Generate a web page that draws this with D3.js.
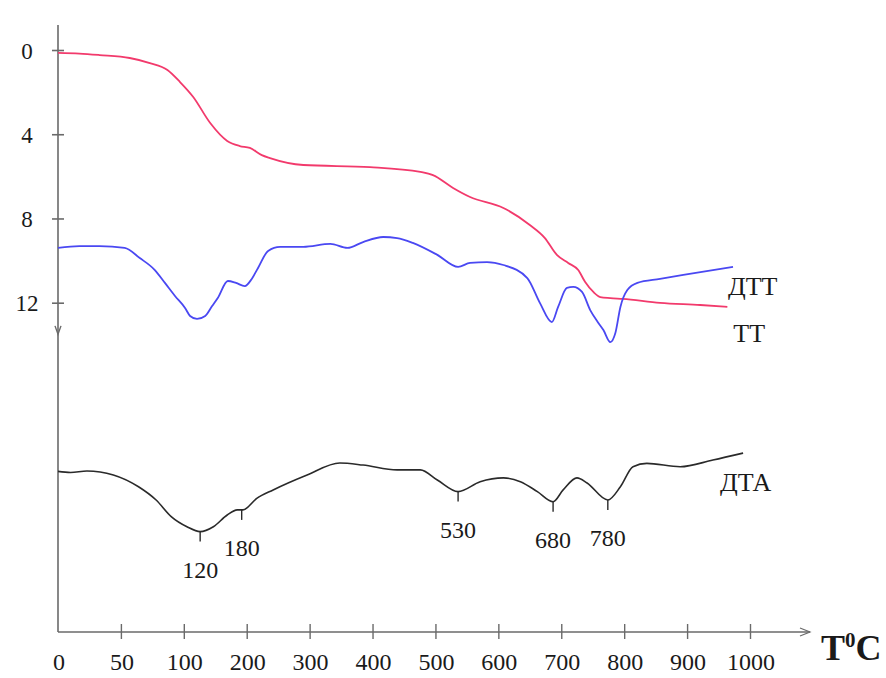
<!DOCTYPE html>
<html lang="ru">
<head>
  <meta charset="UTF-8">
  <title>Термограмма</title>
  <style>
    body {
      margin: 0;
      padding: 0;
      background-color: #ffffff;
    }

    svg text {
      font-family: "Liberation Serif", "Times New Roman", serif;
      fill: #1a1a1a;
    }
  </style>
  <script src="https://d3js.org/d3.v7.min.js"></script>
</head>
<body>
  <div id="chart"></div>
  <script>
    // x ticks (axis is broken: 0-50-100 then steps of 100)
    const xTicks = [50, 100, 200, 300, 400, 500, 600, 700, 800, 900, 1000];
    const xLabels = [0, 50, 100, 200, 300, 400, 500, 600, 700, 800, 900, 1000];
    const yTicks = [0, 4, 8, 12];

    // TT (mass loss), red
    const ttTemp = [0, 17, 33, 57, 73, 87, 97, 115, 142, 169, 189, 205, 224, 237, 290, 396, 476, 496, 528, 555, 608, 650, 674, 693, 711, 727, 738, 751, 762, 778, 798, 857, 921, 964];
    const ttVal = [0.14, 0.17, 0.24, 0.38, 0.62, 0.95, 1.52, 2.23, 3.47, 4.32, 4.56, 4.65, 4.99, 5.13, 5.46, 5.56, 5.79, 5.94, 6.55, 6.98, 7.5, 8.31, 8.93, 9.73, 10.11, 10.45, 11.02, 11.49, 11.73, 11.78, 11.82, 12.01, 12.11, 12.2];

    // DTT, blue
    const dttTemp = [0, 17, 33, 53, 65, 77, 85, 93, 102, 110, 121, 134, 145, 154, 170, 183, 197, 208, 218, 234, 253, 290, 333, 360, 385, 417, 439, 464, 503, 536, 555, 582, 608, 646, 666, 685, 695, 709, 719, 733, 746, 759, 767, 778, 786, 794, 805, 821, 857, 894, 973];
    const dttVal = [9.4, 9.31, 9.31, 9.4, 9.88, 10.45, 11.06, 11.68, 12.25, 12.63, 12.77, 12.63, 12.16, 11.78, 10.97, 11.06, 11.21, 10.87, 10.35, 9.54, 9.35, 9.35, 9.21, 9.4, 9.12, 8.88, 8.93, 9.16, 9.73, 10.3, 10.11, 10.07, 10.21, 10.83, 12.01, 12.92, 12.2, 11.3, 11.25, 11.49, 12.35, 12.96, 13.3, 13.87, 13.44, 12.2, 11.4, 11.06, 10.87, 10.68, 10.3];

    // DTA, black
    const dtaTemp = [0, 10, 23, 44, 64, 78, 90, 105, 126, 147, 169, 185, 194, 216, 242, 296, 348, 385, 439, 476, 503, 536, 571, 608, 635, 662, 687, 703, 725, 741, 774, 794, 814, 836, 889, 941, 989];
    const dtaVal = [20.01, 20.06, 19.99, 20.18, 20.74, 21.37, 22.16, 22.64, 22.87, 22.64, 22.08, 21.84, 21.84, 21.29, 20.89, 20.18, 19.61, 19.71, 19.94, 19.94, 20.42, 20.97, 20.5, 20.32, 20.5, 20.97, 21.45, 20.89, 20.32, 20.56, 21.37, 20.74, 19.79, 19.63, 19.79, 19.47, 19.14];

    // DTA peaks: where they sit on the curve, and what they are labelled
    const peakTemp = [126, 192, 536, 687, 774];
    const peakLabels = ["120", "180", "530", "680", "780"];

    const width = 886;
    const height = 678;

    const svg = d3.select("#chart")
      .append("svg")
      .attr("width", width)
      .attr("height", height);

    svg.append("rect")
      .attr("width", width)
      .attr("height", height)
      .attr("fill", "#ffffff");

    const x = d3.scaleLinear()
      .domain([0, 50, 100, 1000])
      .range([58, 120.9, 183.8, 750]);

    const y = d3.scaleLinear()
      .domain([0, 12])
      .range([50, 302.7]);

    const axisColor = "#6a6a6a";
    const xAxisY = 632;

    // y axis line
    svg.append("line")
      .attr("x1", x(0)).attr("x2", x(0))
      .attr("y1", 25).attr("y2", xAxisY)
      .attr("stroke", axisColor)
      .attr("stroke-width", 1.6);

    // small down arrow under the TT scale
    svg.append("path")
      .attr("d", `M${x(0) - 3},${y(13.1)} L${x(0)},${y(13.5)} L${x(0) + 3},${y(13.1)}`)
      .attr("fill", "none")
      .attr("stroke", axisColor)
      .attr("stroke-width", 1.4);

    const yAxis = svg.append("g")
      .attr("transform", `translate(${x(0)},0)`)
      .call(d3.axisLeft(y).tickValues(yTicks).tickSize(6).tickFormat(d3.format("d")));
    yAxis.select(".domain").remove();
    yAxis.selectAll(".tick line")
      .attr("x1", 6)
      .attr("stroke", axisColor)
      .attr("stroke-width", 1.6);
    yAxis.selectAll(".tick text")
      .attr("x", -31)
      .attr("dy", "0.35em")
      .attr("text-anchor", "middle")
      .style("font-size", "23px")
      .style("font-family", "'Liberation Serif', serif")
      .attr("fill", "#1a1a1a");

    // x axis with arrow
    svg.append("line")
      .attr("x1", x(0)).attr("x2", 810)
      .attr("y1", xAxisY).attr("y2", xAxisY)
      .attr("stroke", axisColor)
      .attr("stroke-width", 1.4);
    svg.append("path")
      .attr("d", `M800,${xAxisY - 4} L810,${xAxisY} L800,${xAxisY + 4}`)
      .attr("fill", "none")
      .attr("stroke", axisColor)
      .attr("stroke-width", 1.2);

    const xAxis = svg.append("g")
      .attr("transform", `translate(0,${xAxisY})`)
      .call(d3.axisBottom(x).tickValues(xTicks).tickSize(7).tickFormat(""));
    xAxis.select(".domain").remove();
    xAxis.selectAll(".tick line")
      .attr("y1", -8)
      .attr("stroke", axisColor)
      .attr("stroke-width", 1.4);

    svg.selectAll(".xlabel")
      .data(xLabels)
      .enter()
      .append("text")
      .attr("class", "xlabel")
      .attr("x", d => x(d) + 1)
      .attr("y", 670)
      .attr("text-anchor", "middle")
      .style("font-size", "24px")
      .text(d => d);

    // T0C
    const tLabel = svg.append("text")
      .attr("x", 821)
      .attr("y", 660)
      .style("font-size", "36px")
      .style("font-weight", "bold");
    tLabel.append("tspan").text("T");
    tLabel.append("tspan").attr("dy", -13).style("font-size", "21px").text("0");
    tLabel.append("tspan").attr("dy", 13).text("C");

    // curves
    const line = (ts, vs) => d3.line()
      .x(i => x(ts[i]))
      .y(i => y(vs[i]))
      .curve(d3.curveMonotoneX)(d3.range(ts.length));

    svg.append("path")
      .attr("d", line(ttTemp, ttVal))
      .attr("fill", "none")
      .attr("stroke", "#f23a6c")
      .attr("stroke-width", 1.8);

    svg.append("path")
      .attr("d", line(dttTemp, dttVal))
      .attr("fill", "none")
      .attr("stroke", "#4a48f2")
      .attr("stroke-width", 1.8);

    svg.append("path")
      .attr("d", line(dtaTemp, dtaVal))
      .attr("fill", "none")
      .attr("stroke", "#2a2a2a")
      .attr("stroke-width", 1.6);

    // value of a series at temperature t (linear between points)
    function valueAt(ts, vs, t) {
      const i = Math.min(Math.max(d3.bisectLeft(ts, t), 1), ts.length - 1);
      const k = (t - ts[i - 1]) / (ts[i] - ts[i - 1]);
      return vs[i - 1] + k * (vs[i] - vs[i - 1]);
    }

    // peak ticks and labels
    const peaks = svg.selectAll(".peak")
      .data(peakTemp)
      .enter()
      .append("g")
      .attr("class", "peak")
      .attr("transform", t => `translate(${x(t)},${y(valueAt(dtaTemp, dtaVal, t))})`);

    peaks.append("line")
      .attr("y1", 0)
      .attr("y2", 10)
      .attr("stroke", "#2a2a2a")
      .attr("stroke-width", 1.4);

    peaks.append("text")
      .attr("y", 46)
      .attr("text-anchor", "middle")
      .style("font-size", "24px")
      .text((d, i) => peakLabels[i]);

    // series names next to the curve ends
    const last = a => a[a.length - 1];
    svg.append("text")
      .attr("x", x(last(dttTemp)) - 5)
      .attr("y", y(last(dttVal)) + 28)
      .style("font-size", "26px")
      .text("ДТТ");
    svg.append("text")
      .attr("x", x(last(ttTemp)) + 6)
      .attr("y", y(last(ttVal)) + 35)
      .style("font-size", "26px")
      .text("ТТ");
    svg.append("text")
      .attr("x", x(last(dtaTemp)) - 23)
      .attr("y", y(last(dtaVal)) + 38)
      .style("font-size", "26px")
      .text("ДТА");
  </script>
</body>
</html>
